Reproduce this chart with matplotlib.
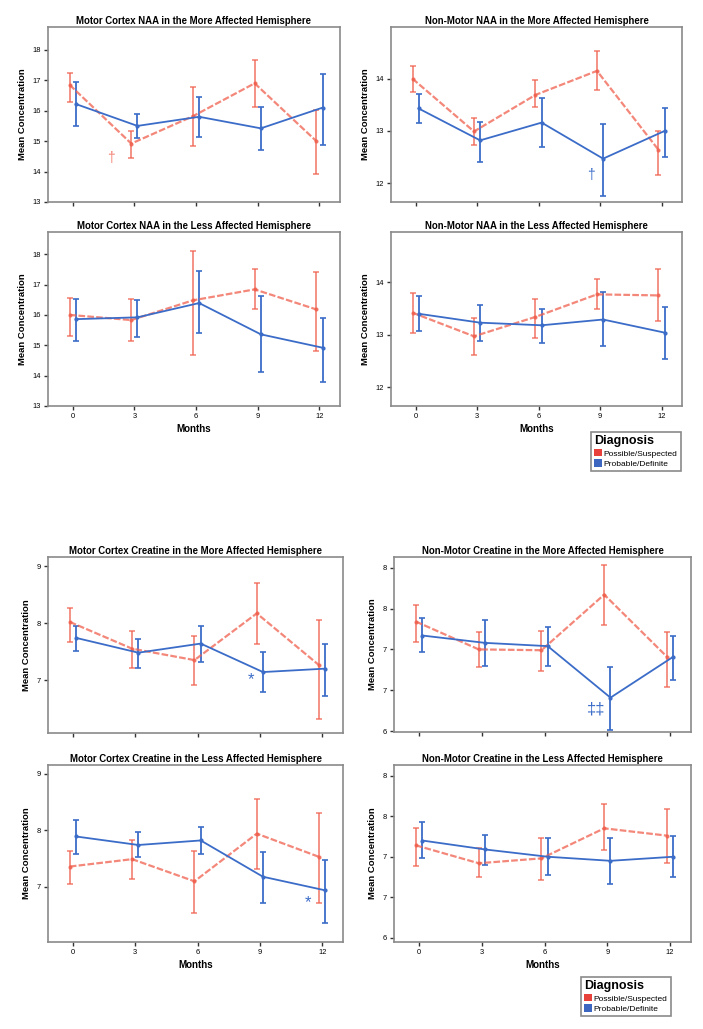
import numpy as np
import matplotlib
matplotlib.use('Agg')
import matplotlib.pyplot as plt
from matplotlib.patches import Patch

plt.rcParams['font.family'] = ['Liberation Sans', 'DejaVu Sans']

months = [0, 3, 6, 9, 12]
groups = ['Possible/Suspected', 'Probable/Definite']

# Motor cortex NAA, more affected hemisphere
mc_naa_more_red = [16.85, 14.92, 15.82, 16.90, 15.00]
mc_naa_more_red_lo = [16.27, 14.43, 14.85, 16.13, 13.93]
mc_naa_more_red_hi = [17.25, 15.33, 16.77, 17.67, 16.02]
mc_naa_more_blue = [16.22, 15.50, 15.80, 15.42, 16.10]
mc_naa_more_blue_lo = [15.50, 15.09, 15.14, 14.70, 14.87]
mc_naa_more_blue_hi = [16.95, 15.89, 16.46, 16.13, 17.21]

# Non-motor NAA, more affected hemisphere
nm_naa_more_red = [14.00, 12.99, 13.69, 14.15, 12.64]
nm_naa_more_red_lo = [13.74, 12.73, 13.45, 13.78, 12.15]
nm_naa_more_red_hi = [14.24, 13.24, 13.97, 14.54, 13.00]
nm_naa_more_blue = [13.43, 12.82, 13.16, 12.47, 13.00]
nm_naa_more_blue_lo = [13.16, 12.41, 12.69, 11.76, 12.51]
nm_naa_more_blue_hi = [13.71, 13.18, 13.64, 13.13, 13.43]

# Motor cortex NAA, less affected hemisphere
mc_naa_less_red = [16.00, 15.83, 16.48, 16.84, 16.18]
mc_naa_less_red_lo = [15.31, 15.14, 14.68, 16.20, 14.81]
mc_naa_less_red_hi = [16.56, 16.53, 18.12, 17.50, 17.42]
mc_naa_less_blue = [15.86, 15.92, 16.39, 15.36, 14.92]
mc_naa_less_blue_lo = [15.14, 15.28, 15.39, 14.12, 13.80]
mc_naa_less_blue_hi = [16.53, 16.50, 17.44, 16.63, 15.90]

# Non-motor NAA, less affected hemisphere
nm_naa_less_red = [13.42, 12.97, 13.34, 13.77, 13.75]
nm_naa_less_red_lo = [13.04, 12.62, 12.94, 13.50, 13.27]
nm_naa_less_red_hi = [13.80, 13.31, 13.69, 14.06, 14.25]
nm_naa_less_blue = [13.40, 13.23, 13.18, 13.29, 13.04]
nm_naa_less_blue_lo = [13.07, 12.88, 12.84, 12.78, 12.54]
nm_naa_less_blue_hi = [13.74, 13.56, 13.50, 13.82, 13.52]

# Motor cortex creatine, more affected hemisphere
mc_cr_more_red = [8.02, 7.55, 7.35, 8.17, 7.26]
mc_cr_more_red_lo = [7.67, 7.21, 6.91, 7.63, 6.32]
mc_cr_more_red_hi = [8.27, 7.86, 7.77, 8.71, 8.06]
mc_cr_more_blue = [7.74, 7.48, 7.64, 7.14, 7.20]
mc_cr_more_blue_lo = [7.51, 7.21, 7.32, 6.79, 6.72]
mc_cr_more_blue_hi = [7.95, 7.72, 7.94, 7.50, 7.64]

# Non-motor creatine, more affected hemisphere
nm_cr_more_red = [7.34, 7.00, 6.99, 7.67, 6.91]
nm_cr_more_red_lo = [7.09, 6.79, 6.73, 7.30, 6.54]
nm_cr_more_red_hi = [7.54, 7.21, 7.23, 8.03, 7.21]
nm_cr_more_blue = [7.17, 7.08, 7.04, 6.41, 6.91]
nm_cr_more_blue_lo = [6.97, 6.80, 6.80, 6.02, 6.62]
nm_cr_more_blue_hi = [7.39, 7.36, 7.27, 6.78, 7.17]

# Motor cortex creatine, less affected hemisphere
mc_cr_less_red = [7.36, 7.49, 7.10, 7.94, 7.53]
mc_cr_less_red_lo = [7.06, 7.14, 6.55, 7.32, 6.72]
mc_cr_less_red_hi = [7.63, 7.82, 7.63, 8.55, 8.31]
mc_cr_less_blue = [7.89, 7.74, 7.82, 7.18, 6.94]
mc_cr_less_blue_lo = [7.58, 7.52, 7.58, 6.71, 6.36]
mc_cr_less_blue_hi = [8.18, 7.97, 8.06, 7.62, 7.48]

# Non-motor creatine, less affected hemisphere
nm_cr_less_red = [7.14, 6.92, 6.98, 7.35, 7.26]
nm_cr_less_red_lo = [6.89, 6.75, 6.71, 7.08, 6.92]
nm_cr_less_red_hi = [7.35, 7.11, 7.23, 7.65, 7.59]
nm_cr_less_blue = [7.20, 7.09, 7.00, 6.95, 7.00]
nm_cr_less_blue_lo = [6.99, 6.90, 6.78, 6.66, 6.75]
nm_cr_less_blue_hi = [7.43, 7.27, 7.23, 7.23, 7.25]

naa_motor_ticks = [13, 14, 15, 16, 17, 18]
naa_nonmotor_ticks = [12, 13, 14]
cr_motor_ticks = [7, 8, 9]
cr_nonmotor_ticks = [6, 6.5, 7, 7.5, 8]
cr_nonmotor_ticklabels = ['6', '7', '7', '8', '8']

red = '#f0604e'
blue = '#3b6cc8'
frame = '#8a8a8a'

W, H = 703, 1029
fig = plt.figure(figsize=(W / 100, H / 100), dpi=100)


def add_axes(x0, x1, y0, y1):
    return fig.add_axes([x0 / W, 1 - y1 / H, (x1 - x0) / W, (y1 - y0) / H])


def draw_panel(ax, title, r, r_lo, r_hi, b, b_lo, b_hi, ylim, yticks, yticklabels=None, xlabels=False):
    x = np.array(months)
    r, r_lo, r_hi = np.array(r), np.array(r_lo), np.array(r_hi)
    b, b_lo, b_hi = np.array(b), np.array(b_lo), np.array(b_hi)
    ax.errorbar(x - 0.15, r, yerr=[r - r_lo, r_hi - r], color=red, lw=1.6, alpha=0.75,
                linestyle=(0, (3, 1)), elinewidth=1.3, capsize=2, capthick=1.2,
                marker='o', ms=2)
    ax.errorbar(x + 0.15, b, yerr=[b - b_lo, b_hi - b], color=blue, lw=1.3,
                elinewidth=1.3, capsize=2, capthick=1.2, marker='o', ms=2)
    ax.set_xlim(-1.2, 13.0)
    ax.set_ylim(*ylim)
    ax.set_xticks(months)
    ax.set_yticks(yticks)
    if yticklabels is not None:
        ax.set_yticklabels(yticklabels)
    if xlabels:
        ax.set_xticklabels([str(m) for m in months])
        ax.set_xlabel('Months', fontsize=7, fontweight='bold', labelpad=3)
    else:
        ax.set_xticklabels([])
    ax.set_title(title, fontsize=6.9, fontweight='bold', pad=2)
    ax.set_ylabel('Mean Concentration', fontsize=6.8, fontweight='bold', labelpad=4)
    ax.tick_params(axis='both', direction='out', length=3, width=1, labelsize=5.4,
                   color='#333333', pad=2)
    for s in ax.spines.values():
        s.set_color(frame)
        s.set_linewidth(1.2)


ax1 = add_axes(48, 340, 27, 202)
draw_panel(ax1, 'Motor Cortex NAA in the More Affected Hemisphere',
           mc_naa_more_red, mc_naa_more_red_lo, mc_naa_more_red_hi,
           mc_naa_more_blue, mc_naa_more_blue_lo, mc_naa_more_blue_hi,
           (13, 18.75), naa_motor_ticks)
ax1.text(1.85, 14.45, '†', color=red, fontsize=10, ha='center', va='center', alpha=0.8)

ax2 = add_axes(391, 682, 27, 202)
draw_panel(ax2, 'Non-Motor NAA in the More Affected Hemisphere',
           nm_naa_more_red, nm_naa_more_red_lo, nm_naa_more_red_hi,
           nm_naa_more_blue, nm_naa_more_blue_lo, nm_naa_more_blue_hi,
           (11.64, 14.99), naa_nonmotor_ticks)
ax2.text(8.55, 12.15, '†', color=blue, fontsize=10, ha='center', va='center')

ax3 = add_axes(48, 340, 232, 406)
draw_panel(ax3, 'Motor Cortex NAA in the Less Affected Hemisphere',
           mc_naa_less_red, mc_naa_less_red_lo, mc_naa_less_red_hi,
           mc_naa_less_blue, mc_naa_less_blue_lo, mc_naa_less_blue_hi,
           (13, 18.73), naa_motor_ticks, xlabels=True)

ax4 = add_axes(391, 682, 232, 406)
draw_panel(ax4, 'Non-Motor NAA in the Less Affected Hemisphere',
           nm_naa_less_red, nm_naa_less_red_lo, nm_naa_less_red_hi,
           nm_naa_less_blue, nm_naa_less_blue_lo, nm_naa_less_blue_hi,
           (11.64, 14.96), naa_nonmotor_ticks, xlabels=True)

ax5 = add_axes(48, 343, 557, 733)
draw_panel(ax5, 'Motor Cortex Creatine in the More Affected Hemisphere',
           mc_cr_more_red, mc_cr_more_red_lo, mc_cr_more_red_hi,
           mc_cr_more_blue, mc_cr_more_blue_lo, mc_cr_more_blue_hi,
           (6.07, 9.16), cr_motor_ticks)
ax5.text(8.55, 7.0, '*', color=blue, fontsize=12, ha='center', va='center')

ax6 = add_axes(394, 691, 557, 732)
draw_panel(ax6, 'Non-Motor Creatine in the More Affected Hemisphere',
           nm_cr_more_red, nm_cr_more_red_lo, nm_cr_more_red_hi,
           nm_cr_more_blue, nm_cr_more_blue_lo, nm_cr_more_blue_hi,
           (5.99, 8.13), cr_nonmotor_ticks, cr_nonmotor_ticklabels)
ax6.text(8.45, 6.27, '‡‡', color=blue, fontsize=12, ha='center', va='center')

ax7 = add_axes(48, 343, 765, 942)
draw_panel(ax7, 'Motor Cortex Creatine in the Less Affected Hemisphere',
           mc_cr_less_red, mc_cr_less_red_lo, mc_cr_less_red_hi,
           mc_cr_less_blue, mc_cr_less_blue_lo, mc_cr_less_blue_hi,
           (6.03, 9.15), cr_motor_ticks, xlabels=True)
ax7.text(11.33, 6.72, '*', color=blue, fontsize=12, ha='center', va='center')

ax8 = add_axes(394, 691, 765, 942)
draw_panel(ax8, 'Non-Motor Creatine in the Less Affected Hemisphere',
           nm_cr_less_red, nm_cr_less_red_lo, nm_cr_less_red_hi,
           nm_cr_less_blue, nm_cr_less_blue_lo, nm_cr_less_blue_hi,
           (5.95, 8.13), cr_nonmotor_ticks, cr_nonmotor_ticklabels, xlabels=True)

handles = [Patch(facecolor='#e8403a', edgecolor='none'), Patch(facecolor='#3d66c0', edgecolor='none')]
for (lx, ly) in [(591, 432), (581, 977)]:
    leg = fig.legend(handles, groups, loc='upper left', bbox_to_anchor=(lx / W, 1 - ly / H),
                     title='Diagnosis', fontsize=6, title_fontproperties={'weight': 'bold', 'size': 9},
                     frameon=True, fancybox=False, edgecolor=frame, framealpha=1,
                     handlelength=0.9, handleheight=1.0, handletextpad=0.2, labelspacing=0.2,
                     borderpad=0.4, borderaxespad=0, alignment='left')
    leg.get_frame().set_linewidth(1.2)

fig.savefig('out.png', dpi=100)
